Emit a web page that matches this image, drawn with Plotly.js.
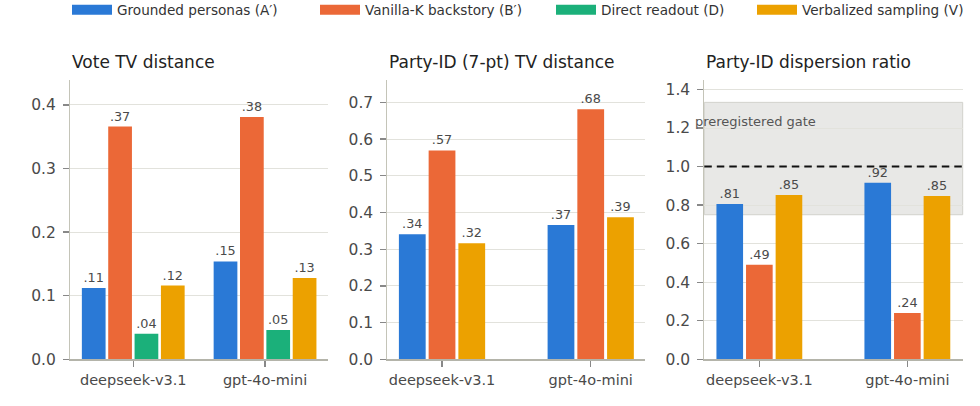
<!DOCTYPE html>
<html><head><meta charset="utf-8">
<script src="https://cdn.plot.ly/plotly-3.0.1.min.js"></script>
<style>html,body{margin:0;padding:0;background:#fff}#chart{width:980px;height:406px}</style>
</head><body><div id="chart"></div>
<script>
const categories = ['deepseek-v3.1', 'gpt-4o-mini'];
const seriesNames = ['Grounded personas (A\u2032)', 'Vanilla-K backstory (B\u2032)', 'Direct readout (D)', 'Verbalized sampling (V)'];
const seriesColors = ['#2a79d6', '#eb6837', '#1bb07a', '#eca100'];

// Panel 1: Vote TV distance
const voteA = [0.112, 0.154];
const voteB = [0.366, 0.381];
const voteD = [0.040, 0.046];
const voteV = [0.116, 0.128];
// Panel 2: Party-ID (7-pt) TV distance
const partyA = [0.341, 0.366];
const partyB = [0.569, 0.681];
const partyV = [0.316, 0.387];
// Panel 3: Party-ID dispersion ratio
const dispA = [0.806, 0.916];
const dispB = [0.491, 0.240];
const dispV = [0.853, 0.847];
const gateBand = [0.75, 1.333];
const parityLine = 1.0;

const panelTitles = ['Vote TV distance', 'Party-ID (7-pt) TV distance', 'Party-ID dispersion ratio'];
const yTicks1 = [0, 0.1, 0.2, 0.3, 0.4];
const yTicks2 = [0, 0.1, 0.2, 0.3, 0.4, 0.5, 0.6, 0.7];
const yTicks3 = [0, 0.2, 0.4, 0.6, 0.8, 1.0, 1.2, 1.4];

const fmt = v => v.toFixed(2).replace(/^0/, '');
const SLOT = 0.2, BW = 0.18;

function bars(vals, si, idx, n, ax) {
  const center = (idx - (n - 1) / 2) * SLOT;
  return {
    type: 'bar', x: categories, y: vals, xaxis: 'x' + ax, yaxis: 'y' + ax,
    width: BW, offset: center - BW / 2,
    marker: {color: seriesColors[si]},
    text: vals.map(fmt), textposition: 'outside', cliponaxis: false, constraintext: 'none',
    textfont: {family: 'DejaVu Sans', size: 12.8, color: '#4a4a4a'},
    showlegend: false, hoverinfo: 'skip', name: seriesNames[si]
  };
}

const data = [
  bars(voteA, 0, 0, 4, ''), bars(voteB, 1, 1, 4, ''), bars(voteD, 2, 2, 4, ''), bars(voteV, 3, 3, 4, ''),
  bars(partyA, 0, 0, 3, '2'), bars(partyB, 1, 1, 3, '2'), bars(partyV, 3, 2, 3, '2'),
  bars(dispA, 0, 0, 3, '3'), bars(dispB, 1, 1, 3, '3'), bars(dispV, 3, 2, 3, '3')
];
data.slice(0, 4).forEach(t => { t.xaxis = 'x'; t.yaxis = 'y'; });

const W = 980, H = 406;
// legend entries (wide patch swatches), one legend per entry
const legendSwatchX = [67, 315, 551, 752];
const legends = {};
seriesNames.forEach((nm, i) => {
  const key = i ? 'legend' + (i + 1) : 'legend';
  data.push({type: 'scatter', mode: 'lines', x: [null], y: [null], name: nm, legend: key,
    line: {color: seriesColors[i], width: 11}, showlegend: true, hoverinfo: 'skip'});
  legends[key] = {orientation: 'h', x: legendSwatchX[i] / W, y: 1.014, xanchor: 'left', yanchor: 'top',
    itemwidth: 40, font: {family: 'DejaVu Sans', size: 13.6, color: '#333'},
    bgcolor: 'rgba(0,0,0,0)', borderwidth: 0};
});

const xd = [[70, 328.3], [387.3, 645], [704.3, 962.7]].map(d => [d[0] / W, d[1] / W]);
const yd = [(H - 359.3) / H, (H - 80) / H];

function xax(i, range) {
  return {domain: xd[i], range: range, type: 'category', anchor: i ? 'y' + (i + 1) : 'y',
    showline: true, linecolor: '#b4b4aa', linewidth: 2, showgrid: false, zeroline: false,
    ticks: 'outside', ticklen: 6, tickwidth: 1.3, tickcolor: '#888',
    tickfont: {family: 'DejaVu Sans', size: 14.5, color: '#4a4a4a'}, fixedrange: true};
}
function yax(i, range, tv) {
  return {domain: yd, range: range, anchor: i ? 'x' + (i + 1) : 'x',
    tickvals: tv, ticktext: tv.map(v => v.toFixed(1)),
    showline: true, linecolor: '#c4c4b8', linewidth: 1, showgrid: true, gridcolor: '#e2e2dc', gridwidth: 1,
    zeroline: false, ticks: 'outside', ticklen: 6, tickwidth: 1.3, tickcolor: '#888',
    ticklabelstandoff: 4,
    tickfont: {family: 'DejaVu Sans', size: 15.5, color: '#4a4a4a'}, fixedrange: true};
}

const annotations = panelTitles.map((t, i) => ({
  text: t, xref: 'paper', yref: 'paper', x: xd[i][0], y: (H - 62) / H,
  xanchor: 'left', yanchor: 'middle', showarrow: false,
  font: {family: 'DejaVu Sans', size: 17, color: '#222'}
}));
annotations.push({text: 'preregistered gate', xref: 'x3 domain', yref: 'y3', x: -0.043, y: 1.233,
  xanchor: 'left', yanchor: 'middle', showarrow: false,
  font: {family: 'DejaVu Sans', size: 13, color: '#555'}});

const shapes = [
  {type: 'rect', xref: 'x3 domain', yref: 'y3', x0: 0, x1: 1, y0: gateBand[0], y1: gateBand[1],
    fillcolor: '#e8e8e6', line: {color: '#d2d2cc', width: 1}, layer: 'below'},
  {type: 'line', xref: 'x3 domain', yref: 'y3', x0: 0, x1: 1, y0: parityLine, y1: parityLine,
    line: {color: '#111', width: 2, dash: '7.5px,5px'}, layer: 'above'}
];

const layout = Object.assign({
  width: W, height: H, margin: {l: 0, r: 0, t: 0, b: 0, autoexpand: false},
  paper_bgcolor: '#fff', plot_bgcolor: '#fff', barmode: 'overlay',
  font: {family: 'DejaVu Sans', color: '#333'},
  xaxis: xax(0, [-0.48, 1.48]), yaxis: yax(0, [0, 0.4393], yTicks1),
  xaxis2: xax(1, [-0.368, 1.365]), yaxis2: yax(1, [0, 0.761], yTicks2),
  xaxis3: xax(2, [-0.372, 1.374]), yaxis3: yax(2, [0, 1.449], yTicks3),
  showlegend: true,
  annotations: annotations, shapes: shapes
}, legends);
Plotly.newPlot('chart', data, layout, {displayModeBar: false, staticPlot: true});
</script></body></html>
